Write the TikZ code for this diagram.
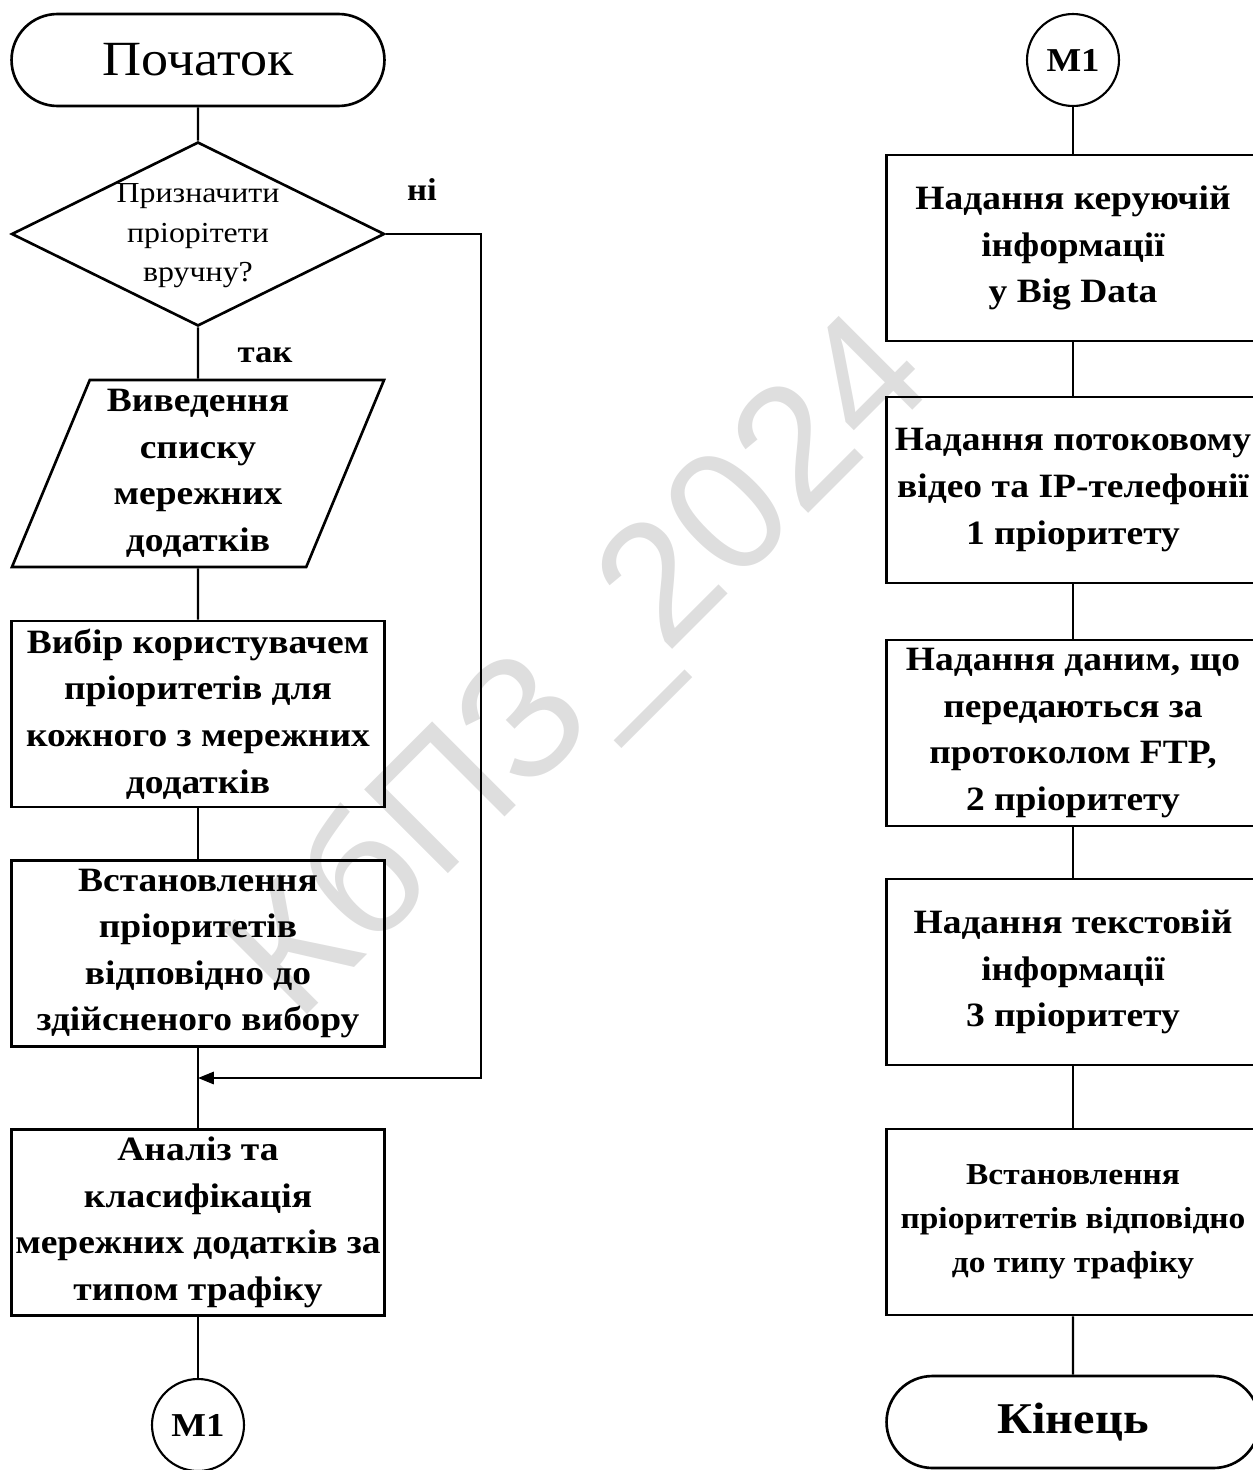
\documentclass[tikz,border=0pt]{standalone}
\usepackage{fontspec}
\setmainfont{Liberation Serif}[FakeStretch=1.1]
\setsansfont{Liberation Sans}
\usetikzlibrary{shapes.geometric,shapes.misc,arrows.meta}

\begin{document}
\begin{tikzpicture}[x=0.02cm,y=-0.02cm,
	term/.style={draw,line width=1.5pt,rounded rectangle,minimum width=7.46cm,minimum height=1.84cm,inner sep=0pt},
	decision/.style={draw,line width=1.5pt,diamond,minimum width=7.46cm,minimum height=3.68cm,inner sep=0pt},
	inout/.style={draw,line width=1.5pt,trapezium,trapezium left angle=68.7,trapezium right angle=111.3,trapezium stretches=true,minimum width=7.46cm,minimum height=3.74cm,inner sep=0pt,align=center,font=\fontsize{19.4}{26.5}\selectfont\bfseries},
	proc/.style={draw,line width=1.5pt,rectangle,minimum width=7.46cm,minimum height=3.72cm,inner sep=0pt,align=center,font=\fontsize{19.4}{26.5}\selectfont\bfseries},
	conn/.style={draw,line width=1.2pt,circle,minimum size=1.84cm,inner sep=0pt,font=\fontsize{19}{22}\selectfont\bfseries},
	lbl/.style={font=\fontsize{18}{20}\selectfont\bfseries},
	line/.style={line width=1.2pt},
	arrow/.style={line width=1.2pt,-{Triangle[length=9pt,width=7pt]}}]
	\clip (0,0) rectangle (1253,1470);
	% watermark
		\node[rotate=45,text=black!13,font=\fontsize{98}{100}\selectfont\sffamily] (mark) at (585,672) {КбПЗ\_2024};
	% left column
		\node[term,font=\fontsize{28}{30}\selectfont] (start) at (198,60) {Початок};
		\node[decision] (ask) at (198,234) {};
		\node[align=center,font=\fontsize{16.5}{22.5}\selectfont] (askt) at (198,236) {Призначити\\пріорітети\\вручну?};
		\node[inout] (list) at (198,473.5) {Виведення\\списку\\мережних\\додатків};
		\node[proc] (choose) at (198,714) {Вибір користувачем\\пріоритетів для\\кожного з мережних\\додатків};
		\node[proc] (apply) at (198,953.5) {Встановлення\\пріоритетів\\відповідно до\\здійсненого вибору};
		\node[proc] (classify) at (198,1222.5) {Аналіз та\\класифікація\\мережних додатків за\\типом трафіку};
		\node[conn] (outm) at (198,1425) {M1};
		\coordinate (join) at (198,1078);
		\coordinate (turn) at (481,1078);
		\node[lbl] (no) at (422,190) {ні};
		\node[lbl] (yes) at (265,355) {так};
	% right column
		\node[conn] (inm) at (1073,60) {M1};
		\node[proc] (control) at (1073,248) {Надання керуючій\\інформації\\у Big Data};
		\node[proc] (video) at (1073,490) {Надання потоковому\\відео та IP-телефонії\\1 пріоритету};
		\node[proc] (ftp) at (1073,733) {Надання даним, що\\передаються за\\протоколом FTP,\\2 пріоритету};
		\node[proc] (text) at (1073,972) {Надання текстовій\\інформації\\3 пріоритету};
		\node[proc,font=\fontsize{17.3}{25}\selectfont\bfseries] (bytype) at (1073,1222) {Встановлення\\пріоритетів відповідно\\до типу трафіку};
		\node[term,font=\fontsize{25}{28}\selectfont\bfseries] (finish) at (1073,1422) {Кінець};
	% connectors
		\draw[line] (start) -- (ask);
		\draw[line] (ask) -- (list);
		\draw[line] (list) -- (choose);
		\draw[line] (choose) -- (apply);
		\draw[line] (apply) -- (classify);
		\draw[line] (classify) -- (outm);
		\draw[arrow] (ask.east) -| (turn) -- (join);
		\draw[line] (inm) -- (control);
		\draw[line] (control) -- (video);
		\draw[line] (video) -- (ftp);
		\draw[line] (ftp) -- (text);
		\draw[line] (text) -- (bytype);
		\draw[line] (bytype) -- (finish);
\end{tikzpicture}
\end{document}
